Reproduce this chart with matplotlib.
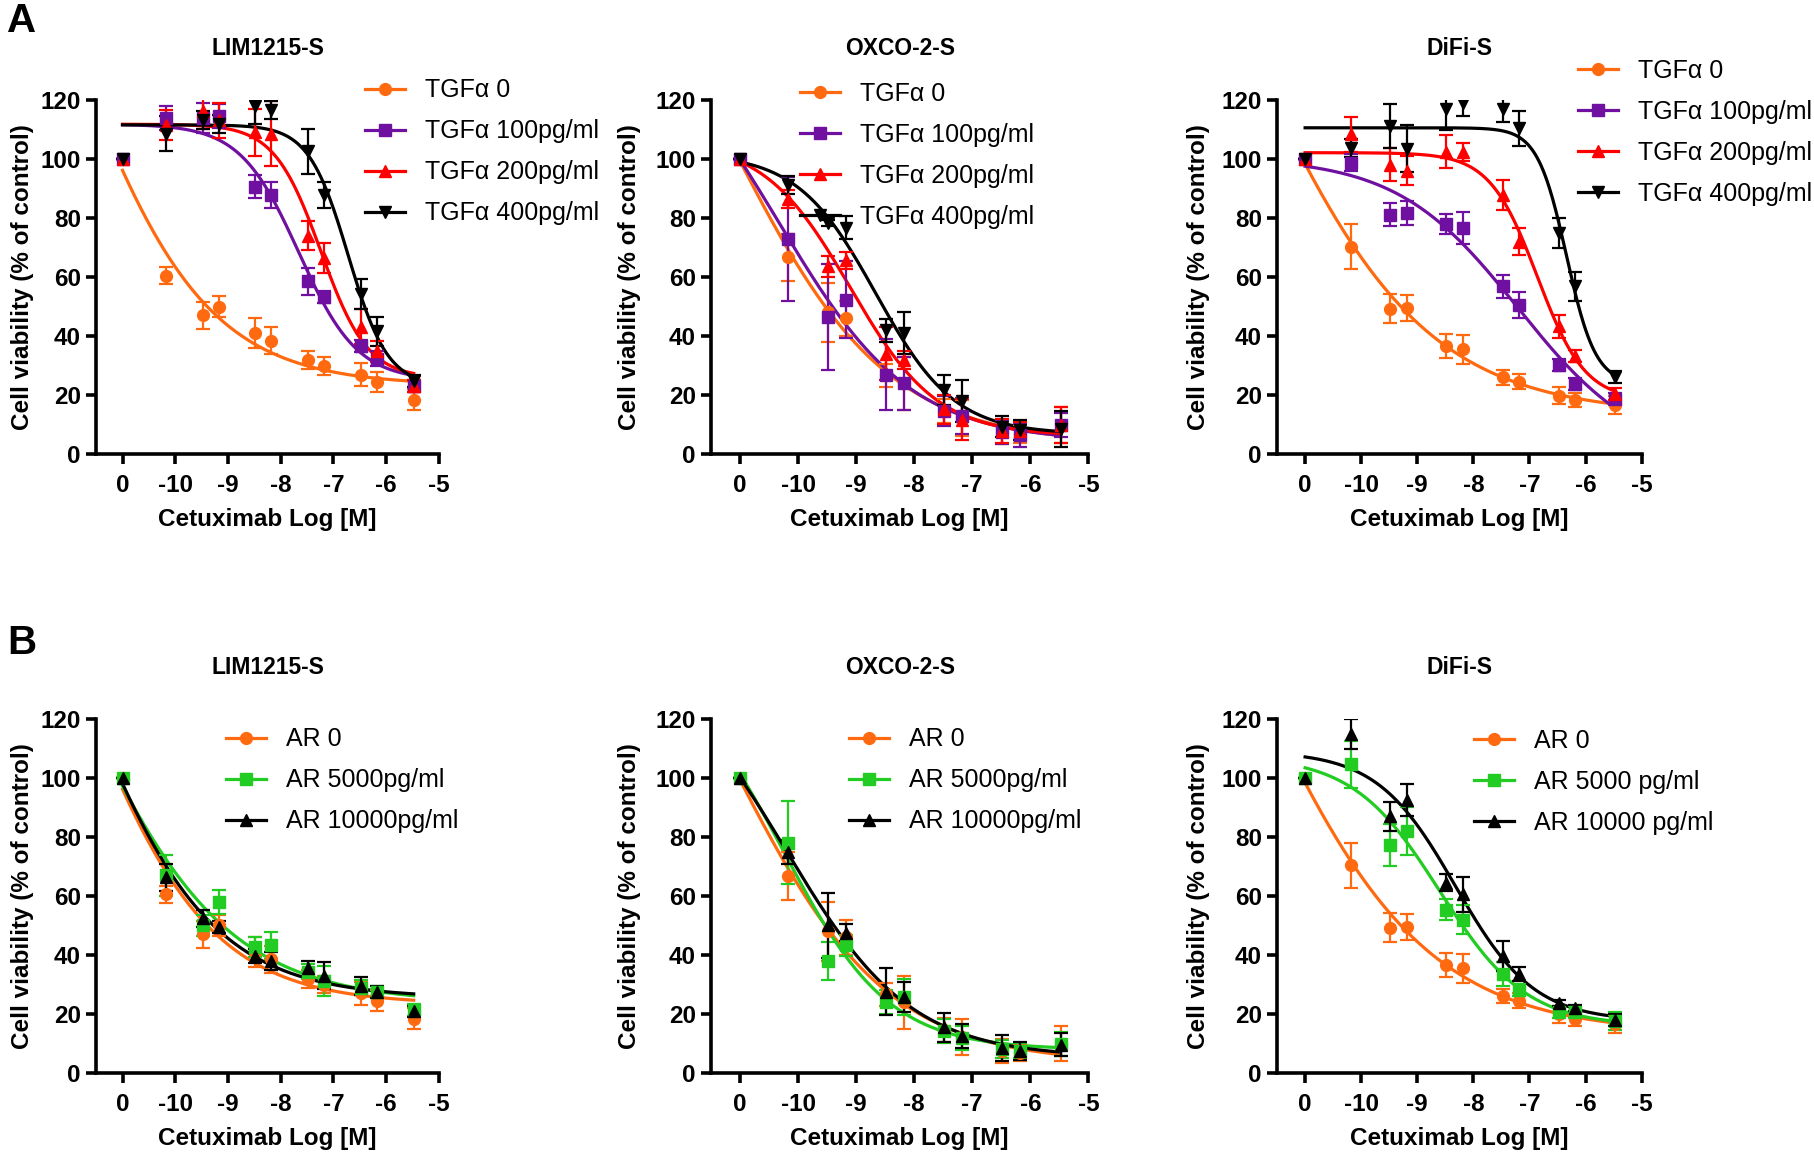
import numpy as np
import matplotlib
matplotlib.use("Agg")
import matplotlib.pyplot as plt

plt.rcParams["font.family"] = ["Liberation Sans", "DejaVu Sans"]

# ── Data ──
# x positions: log10 of concentration; the untreated "0" point sits at -11
X_LOG = [-11, -10.18, -9.48, -9.18, -8.48, -8.18, -7.48, -7.18, -6.48, -6.18, -5.48]
X_TICKS = [-11, -10, -9, -8, -7, -6, -5]
X_TICKLABELS = ["0", "-10", "-9", "-8", "-7", "-6", "-5"]
Y_TICKS = [0, 20, 40, 60, 80, 100, 120]

# untreated controls (shared by panel A and B)
LIM_CTRL = [100, 60.5, 47, 50, 41, 38.5, 32, 30, 27, 24.5, 18.5]
LIM_CTRL_ERR = [0, 3, 4.5, 3.5, 5, 4.5, 3, 3, 4, 3.5, 3.5]
OXCO_CTRL = [100, 66.7, 48, 46, 26.7, 24, 14.6, 12.3, 7.6, 7, 10]
OXCO_CTRL_ERR = [0, 8, 10, 6, 4, 9, 4, 6, 4, 3, 6]
DIFI_CTRL = [100, 70.3, 49.3, 49.5, 36.7, 35.5, 26.1, 24.6, 19.9, 18.4, 16.7]
DIFI_CTRL_ERR = [0, 7.5, 5, 4.5, 4, 5, 2.5, 2.5, 3, 2.5, 3]

# panel A: TGFalpha
LIM_TGF100 = [100, 113.8, 113.8, 114.4, 90.6, 87.7, 58.5, 53.2, 36.6, 32.3, 23.2]
LIM_TGF100_ERR = [0, 4, 5, 4, 4, 4.5, 4.5, 2, 2, 2.5, 2]
LIM_TGF200 = [100, 111.5, 116, 113, 109, 108.5, 74, 66.4, 43.2, 34.9, 23]
LIM_TGF200_ERR = [0, 5, 6, 6, 8, 11, 5, 5, 6, 3.5, 2]
LIM_TGF400 = [100, 108.5, 113, 111.7, 117.9, 116.4, 102.5, 87.8, 54.2, 41.6, 24.9]
LIM_TGF400_ERR = [0, 6, 3, 3, 6, 3, 7.5, 4.5, 5, 5, 2]

OXCO_TGF100 = [100, 72.8, 46.5, 52.3, 27, 24, 14.6, 12.9, 7.6, 6.4, 10]
OXCO_TGF100_ERR = [0, 21, 18, 13, 12, 9, 5, 6, 4, 4, 4]
OXCO_TGF200 = [100, 86.4, 63.6, 65.6, 34, 32, 15.2, 11.7, 8, 8, 10]
OXCO_TGF200_ERR = [0, 3, 3.5, 3, 9, 3, 5, 7, 4, 3, 6]
OXCO_TGF400 = [100, 91.1, 78.2, 76.7, 41.9, 41, 21.7, 18.1, 9.4, 8.2, 8.5]
OXCO_TGF400_ERR = [0, 3, 1, 4, 4, 7, 5, 7, 3.5, 3.5, 6]

DIFI_TGF100 = [100, 98.7, 81.1, 81.6, 77.9, 76.5, 56.8, 50.5, 30.1, 23.8, 18.7]
DIFI_TGF100_ERR = [0, 3, 4, 4, 3.5, 5.5, 4, 4.5, 2, 2, 2]
DIFI_TGF200 = [100, 108.3, 98, 96, 102.4, 102.4, 87.8, 72, 43.3, 33.4, 20.5]
DIFI_TGF200_ERR = [0, 6, 5.5, 5, 5.5, 3, 5, 4.5, 4, 2, 2]
DIFI_TGF400 = [100, 103.6, 111.2, 103.4, 116.9, 118.9, 116.9, 110.3, 74.9, 56.8, 26.3]
DIFI_TGF400_ERR = [0, 3, 7.5, 8, 7, 4.5, 4.5, 6, 5, 5, 2]

# panel B: amphiregulin
LIM_AR5000 = [100, 67, 50, 57.9, 42.7, 43.3, 34.3, 31.2, 29, 27.6, 21.5]
LIM_AR5000_ERR = [0, 7, 3.5, 4, 3.5, 4.5, 2.5, 5, 2.5, 2, 2]
LIM_AR10000 = [100, 66.3, 52.4, 49.4, 39.7, 37.9, 35.5, 33, 29.4, 27.6, 20.9]
LIM_AR10000_ERR = [0, 4.5, 3, 2, 2.5, 3, 2.5, 4.5, 3, 2, 2]

OXCO_AR5000 = [100, 78, 37.9, 43.3, 24, 25.8, 14.3, 11.9, 8.2, 7.6, 10]
OXCO_AR5000_ERR = [0, 14, 6.5, 3.5, 4, 6, 4, 4, 3, 2.5, 4]
OXCO_AR10000 = [100, 74.8, 50, 47.6, 27.6, 25.8, 15.5, 12.5, 8.5, 7.6, 9.7]
OXCO_AR10000_ERR = [0, 4, 11, 3, 8, 5, 5, 4, 4.5, 3, 4]

DIFI_AR5000 = [100, 104.5, 77.2, 82, 55.4, 52, 33.6, 28.2, 20.6, 20.6, 17.7]
DIFI_AR5000_ERR = [0, 8, 7, 8, 3.5, 5, 4, 2, 2, 2, 3]
DIFI_AR10000 = [100, 114.8, 86.9, 92.4, 64.5, 60.5, 39.7, 33.6, 23.7, 22.2, 17.9]
DIFI_AR10000_ERR = [0, 5, 5, 5.5, 3, 6, 5, 2.5, 1, 1, 2]

TGF_LABELS = ["TGF\u03b1 0", "TGF\u03b1 100pg/ml", "TGF\u03b1 200pg/ml", "TGF\u03b1 400pg/ml"]
AR_LABELS = ["AR 0", "AR 5000pg/ml", "AR 10000pg/ml"]
AR_LABELS_DIFI = ["AR 0", "AR 5000 pg/ml", "AR 10000 pg/ml"]

# ── Styles ──
ORANGE = "#ff6a10"
PURPLE = "#7010a0"
RED = "#ff0000"
BLACK = "#000000"
GREEN = "#22cc22"

TGF_STYLE = [(ORANGE, "o"), (PURPLE, "s"), (RED, "^"), (BLACK, "v")]
AR_STYLE = [(ORANGE, "o"), (GREEN, "s"), (BLACK, "^")]


def fit_4pl(x, y):
    """Least-squares 4-parameter logistic fit (grid over logIC50/hill)."""
    x = np.asarray(x, float)
    y = np.asarray(y, float)
    cs = np.arange(-12.0, -4.5, 0.02)
    hs = np.arange(0.2, 4.0, 0.02)
    C, H = np.meshgrid(cs, hs, indexing="ij")
    s = 1.0 / (1.0 + 10.0 ** ((x[None, None, :] - C[..., None]) * H[..., None]))
    a1 = 1 - s
    s11 = (a1 * a1).sum(-1)
    s12 = (a1 * s).sum(-1)
    s22 = (s * s).sum(-1)
    r1 = (a1 * y).sum(-1)
    r2 = (s * y).sum(-1)
    det = s11 * s22 - s12 ** 2
    det = np.where(np.abs(det) < 1e-9, np.nan, det)
    bot = (s22 * r1 - s12 * r2) / det
    top = (s11 * r2 - s12 * r1) / det
    pred = bot[..., None] * a1 + top[..., None] * s
    sse = np.nansum((pred - y) ** 2, -1)
    sse = np.where(np.isnan(det), np.inf, sse)
    i, j = np.unravel_index(np.argmin(sse), sse.shape)
    return bot[i, j], top[i, j], cs[i], hs[j]


def draw_panel(ax, title, series, errs, labels, styles, leg_xy):
    xs = np.linspace(X_LOG[0], X_LOG[-1], 300)
    handles = []
    for vals, err, lab, (col, mk) in zip(series, errs, labels, styles):
        bot, top, c, h = fit_4pl(X_LOG, vals)
        curve = bot + (top - bot) / (1 + 10 ** ((xs - c) * h))
        ax.plot(xs, curve, color=col, lw=2.3, zorder=3)
        ax.errorbar(X_LOG, vals, yerr=err, fmt="none", ecolor=col,
                    elinewidth=1.6, capsize=5, capthick=1.6, zorder=4)
        ax.plot(X_LOG, vals, linestyle="none", marker=mk, color=col,
                markersize=8.5, zorder=5)
        handles.append(ax.plot([], [], color=col, lw=2.3, marker=mk,
                               markersize=8.5, label=lab)[0])

    ax.set_xlim(-11.5, -5)
    ax.set_ylim(0, 120)
    ax.set_xticks(X_TICKS)
    ax.set_xticklabels(X_TICKLABELS)
    ax.set_yticks(Y_TICKS)
    for sp in ["top", "right"]:
        ax.spines[sp].set_visible(False)
    for sp in ["left", "bottom"]:
        ax.spines[sp].set_linewidth(2.6)
    ax.tick_params(width=2.6, length=7, labelsize=17.5)
    ax.tick_params(axis="x", pad=7)
    ax.tick_params(axis="y", pad=4)
    for t in ax.get_xticklabels() + ax.get_yticklabels():
        t.set_fontweight("bold")

    ax.text(0.5, 1.145, title, transform=ax.transAxes, ha="center",
            va="center", fontsize=16.5, fontweight="bold")
    ax.text(0.5, -0.185, "Cetuximab Log [M]", transform=ax.transAxes,
            ha="center", va="center", fontsize=17.5, fontweight="bold")
    ax.text(-0.215, 0.5, "Cell viability (% of control)", transform=ax.transAxes,
            ha="center", va="center", rotation=90, fontsize=17.5,
            fontweight="bold")

    ax.legend(handles=handles, loc="upper left", bbox_to_anchor=leg_xy,
              frameon=False, fontsize=18, handlelength=1.6,
              handletextpad=0.8, labelspacing=0.68, borderpad=0,
              borderaxespad=0)


fig = plt.figure(figsize=(18.14, 11.59), dpi=100)

col_pos = [(0.053, 0.189), (0.392, 0.208), (0.704, 0.201)]
row_a = (0.608, 0.306)
row_b = (0.074, 0.306)

panels_a = [
    ("LIM1215-S", [LIM_CTRL, LIM_TGF100, LIM_TGF200, LIM_TGF400],
     [LIM_CTRL_ERR, LIM_TGF100_ERR, LIM_TGF200_ERR, LIM_TGF400_ERR], (0.785, 1.06)),
    ("OXCO-2-S", [OXCO_CTRL, OXCO_TGF100, OXCO_TGF200, OXCO_TGF400],
     [OXCO_CTRL_ERR, OXCO_TGF100_ERR, OXCO_TGF200_ERR, OXCO_TGF400_ERR], (0.235, 1.05)),
    ("DiFi-S", [DIFI_CTRL, DIFI_TGF100, DIFI_TGF200, DIFI_TGF400],
     [DIFI_CTRL_ERR, DIFI_TGF100_ERR, DIFI_TGF200_ERR, DIFI_TGF400_ERR], (0.825, 1.115)),
]
panels_b = [
    ("LIM1215-S", [LIM_CTRL, LIM_AR5000, LIM_AR10000],
     [LIM_CTRL_ERR, LIM_AR5000_ERR, LIM_AR10000_ERR], AR_LABELS, (0.38, 0.975)),
    ("OXCO-2-S", [OXCO_CTRL, OXCO_AR5000, OXCO_AR10000],
     [OXCO_CTRL_ERR, OXCO_AR5000_ERR, OXCO_AR10000_ERR], AR_LABELS, (0.365, 0.975)),
    ("DiFi-S", [DIFI_CTRL, DIFI_AR5000, DIFI_AR10000],
     [DIFI_CTRL_ERR, DIFI_AR5000_ERR, DIFI_AR10000_ERR], AR_LABELS_DIFI, (0.54, 0.97)),
]

for (left, width), (title, series, errs, leg) in zip(col_pos, panels_a):
    ax = fig.add_axes([left, row_a[0], width, row_a[1]])
    draw_panel(ax, title, series, errs, TGF_LABELS, TGF_STYLE, leg)

for (left, width), (title, series, errs, labels, leg) in zip(col_pos, panels_b):
    ax = fig.add_axes([left, row_b[0], width, row_b[1]])
    draw_panel(ax, title, series, errs, labels, AR_STYLE, leg)

fig.text(0.004, 0.982, "A", fontsize=29, fontweight="bold", va="center")
fig.text(0.004, 0.445, "B", fontsize=29, fontweight="bold", va="center")

fig.savefig("out.png", dpi=100)
